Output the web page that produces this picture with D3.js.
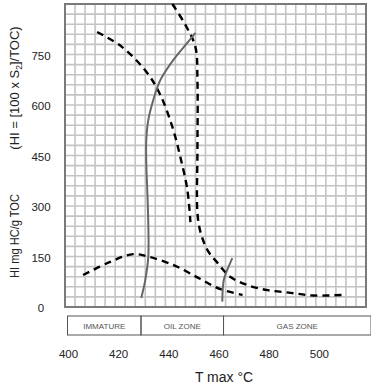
<!DOCTYPE html>
<html>
<head>
<meta charset="utf-8">
<script src="https://cdn.jsdelivr.net/npm/d3@7"></script>
<style>
  body { margin: 0; background: #fff; }
  text { font-family: "Liberation Sans", Arial, sans-serif; }
</style>
</head>
<body>
<svg id="chart" width="371" height="390"></svg>
<script>
// ── Data (Tmax °C, HI mg HC/g TOC) ──
const xTicks = [400, 420, 440, 460, 480, 500];
const yTicks = [0, 150, 300, 450, 600, 750];
const zones  = [
    { name: 'IMMATURE', from: 401, to: 430.3 },
    { name: 'OIL ZONE', from: 430.3, to: 463.2 },
    { name: 'GAS ZONE', from: 463.2, to: 522 }
];

const dashUpper = [[412.8, 817], [422.8, 772], [432.8, 695], [438, 630], [442.8, 535],
                   [446, 445], [448.8, 347], [450, 252]];
const dashRight = [[442.8, 900], [448, 838], [452, 772], [452.8, 674], [452.8, 466],
                   [452.8, 279], [454, 223], [456.8, 169], [460.8, 131], [466, 89],
                   [472.8, 65], [480.8, 50], [490, 42], [499, 34], [511, 36]];
const dashLow   = [[407.2, 95], [418, 134], [427.2, 157], [434, 148], [444, 122],
                   [454, 83], [462, 53], [470.8, 36]];
const solidMain = [[430.4, 27], [432, 80], [433.2, 148], [433.2, 249], [432.8, 347],
                   [432.4, 428], [432.4, 496], [433.2, 555], [435.2, 615], [438, 674],
                   [443.2, 734], [448, 778], [452, 814]];
const solidGas  = [[462.7, 16], [463.3, 80], [464.7, 110], [466.7, 145]];

const svg = d3.select('#chart');

const x = d3.scaleLinear().domain([400, 520]).range([65, 366]);
const y = d3.scaleLinear().domain([0, 900]).range([307, 4]);

// ── Grid ──
const grid = svg.append('g');
grid.selectAll('line.v')
    .data(d3.range(400, 521, 4))
    .join('line')
    .attr('x1', d => x(d)).attr('x2', d => x(d))
    .attr('y1', y(900)).attr('y2', y(0))
    .attr('stroke', '#c4c4c4').attr('stroke-width', 1.6);
grid.selectAll('line.h')
    .data(d3.range(0, 901, 30))
    .join('line')
    .attr('x1', x(400)).attr('x2', x(520))
    .attr('y1', d => y(d)).attr('y2', d => y(d))
    .attr('stroke', '#c4c4c4').attr('stroke-width', 1.6);

svg.append('rect')
    .attr('x', x(400)).attr('y', y(900))
    .attr('width', x(520) - x(400)).attr('height', y(0) - y(900))
    .attr('fill', 'none').attr('stroke', '#7a7a7a').attr('stroke-width', 2);

// ── Curves ──
const line = d3.line()
    .x(d => x(d[0])).y(d => y(d[1]))
    .curve(d3.curveCatmullRom.alpha(0.5));

[dashUpper, dashRight, dashLow].forEach(pts => {
    svg.append('path')
        .datum(pts)
        .attr('d', line)
        .attr('fill', 'none')
        .attr('stroke', '#000')
        .attr('stroke-width', 2.4)
        .attr('stroke-dasharray', '7,5');
});

[solidMain, solidGas].forEach(pts => {
    svg.append('path')
        .datum(pts)
        .attr('d', line)
        .attr('fill', 'none')
        .attr('stroke', '#676767')
        .attr('stroke-width', 2);
});

// ── Zone band ──
const band = svg.append('g');
band.selectAll('rect')
    .data(zones)
    .join('rect')
    .attr('x', d => x(d.from)).attr('y', 316)
    .attr('width', d => x(d.to) - x(d.from)).attr('height', 19)
    .attr('fill', 'none').attr('stroke', '#555').attr('stroke-width', 1);
band.selectAll('text')
    .data(zones)
    .join('text')
    .attr('x', d => (x(d.from) + x(d.to)) / 2)
    .attr('y', 328.5)
    .attr('text-anchor', 'middle')
    .attr('font-size', 8)
    .attr('fill', '#555')
    .text(d => d.name);

// ── Axes ──
const xAxis = svg.append('g')
    .attr('transform', `translate(3,${y(0)})`)
    .call(d3.axisBottom(x).tickValues(xTicks).tickSize(0).tickPadding(43));
xAxis.select('.domain').remove();
xAxis.selectAll('text').attr('font-size', 11.5).attr('fill', '#222')
    .style('font-family', '"Liberation Sans", Arial, sans-serif');

const yAxis = svg.append('g')
    .attr('transform', 'translate(41,0)')
    .call(d3.axisLeft(y).tickValues(yTicks).tickSize(0).tickPadding(0));
yAxis.select('.domain').remove();
yAxis.selectAll('text').attr('text-anchor', 'middle').attr('font-size', 11.5).attr('fill', '#222')
    .attr('dy', '0.4em')
    .style('font-family', '"Liberation Sans", Arial, sans-serif');

svg.append('text')
    .attr('x', 224).attr('y', 382)
    .attr('text-anchor', 'middle')
    .attr('font-size', 14)
    .attr('fill', '#222')
    .text('T max °C');

// y title in two pieces, as in the source figure
svg.append('text')
    .attr('transform', 'translate(19,236) rotate(-90)')
    .attr('text-anchor', 'middle')
    .attr('font-size', 13)
    .attr('fill', '#222')
    .attr('textLength', 84)
    .attr('lengthAdjust', 'spacingAndGlyphs')
    .text('HI mg HC/g TOC');

const yl = svg.append('text')
    .attr('transform', 'translate(19,88) rotate(-90)')
    .attr('text-anchor', 'middle')
    .attr('font-size', 13)
    .attr('fill', '#222');
yl.append('tspan').text('(HI = [100 x S');
yl.append('tspan').attr('font-size', 8.5).attr('dy', 3).text('2');
yl.append('tspan').attr('dy', -3).text(']/TOC)');
</script>
</body>
</html>
